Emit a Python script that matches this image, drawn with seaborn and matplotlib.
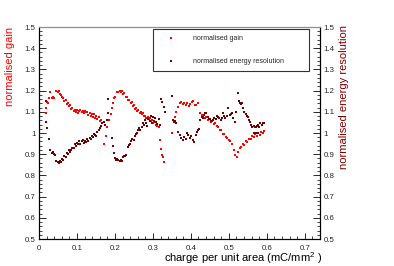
"""
Normalised gain and energy resolution vs accumulated charge (ROOT-style look).
"""

import matplotlib
import pandas as pd
import seaborn as sns

matplotlib.use("Agg")
import matplotlib.pyplot as plt
from matplotlib.ticker import MultipleLocator

# normalised gain (red)
gain_x = [
    0.018, 0.019, 0.020, 0.024, 0.027, 0.030, 0.034, 0.037, 0.040, 0.046,
    0.049, 0.052, 0.055, 0.058, 0.061, 0.064, 0.067, 0.070, 0.073, 0.076,
    0.079, 0.082, 0.085, 0.088, 0.091, 0.094, 0.097, 0.100, 0.103, 0.106,
    0.109, 0.112, 0.115, 0.118, 0.121, 0.124, 0.127, 0.130, 0.133, 0.136,
    0.139, 0.142, 0.145, 0.148, 0.151, 0.154, 0.157, 0.160, 0.163, 0.166,
    0.172, 0.176, 0.180, 0.185, 0.189, 0.192, 0.195, 0.198, 0.201, 0.205,
    0.209, 0.212, 0.216, 0.219, 0.222, 0.225, 0.228, 0.232, 0.235, 0.238,
    0.241, 0.244, 0.247, 0.250, 0.253, 0.256, 0.259, 0.262, 0.265, 0.268,
    0.271, 0.274, 0.277, 0.280, 0.283, 0.286, 0.289, 0.292, 0.295, 0.298,
    0.301, 0.304, 0.307, 0.310, 0.316, 0.318, 0.321, 0.325, 0.327, 0.330,
    0.349, 0.355, 0.358, 0.362, 0.366, 0.370, 0.374, 0.378, 0.382, 0.386,
    0.390, 0.394, 0.398, 0.402, 0.406, 0.410, 0.414, 0.418, 0.424, 0.428,
    0.432, 0.436, 0.440, 0.444, 0.448, 0.452, 0.456, 0.460, 0.464, 0.468,
    0.472, 0.476, 0.480, 0.484, 0.488, 0.492, 0.496, 0.500, 0.504, 0.508,
    0.513, 0.517, 0.521, 0.525, 0.529, 0.533, 0.537, 0.541, 0.545, 0.549,
    0.553, 0.557, 0.561, 0.565, 0.569, 0.573, 0.577, 0.581, 0.585, 0.589,
    0.593,
]
gain_y = [
    1.096, 1.119, 1.148, 1.143, 1.165, 1.195, 1.167, 1.172, 1.164, 1.196,
    1.192, 1.198, 1.184, 1.180, 1.168, 1.166, 1.152, 1.156, 1.138, 1.142,
    1.128, 1.130, 1.114, 1.120, 1.106, 1.108, 1.098, 1.110, 1.096, 1.102,
    1.108, 1.100, 1.106, 1.094, 1.104, 1.098, 1.100, 1.086, 1.092, 1.082,
    1.088, 1.076, 1.090, 1.072, 1.078, 1.064, 1.074, 1.056, 1.062, 1.048,
    0.948, 0.985, 1.030, 1.060, 1.090, 1.116, 1.140, 1.165, 1.172, 1.192,
    1.195, 1.199, 1.193, 1.197, 1.186, 1.190, 1.172, 1.170, 1.156, 1.155,
    1.142, 1.144, 1.128, 1.130, 1.114, 1.118, 1.106, 1.110, 1.096, 1.100,
    1.088, 1.092, 1.078, 1.082, 1.070, 1.076, 1.064, 1.070, 1.056, 1.062,
    1.048, 1.054, 1.040, 1.032, 1.030, 0.967, 0.925, 0.895, 0.885, 0.863,
    1.000, 1.050, 1.077, 1.100, 1.124, 1.140, 1.146, 1.136, 1.142, 1.134,
    1.140, 1.126, 1.136, 1.146, 1.152, 1.132, 1.130, 1.142, 1.096, 1.084,
    1.082, 1.072, 1.074, 1.062, 1.066, 1.054, 1.058, 1.044, 1.046, 1.032,
    1.030, 1.014, 1.012, 0.996, 0.994, 0.980, 0.978, 0.966, 0.964, 0.948,
    0.922, 0.895, 0.886, 0.912, 0.928, 0.934, 0.948, 0.944, 0.962, 0.956,
    0.974, 0.970, 0.986, 0.980, 0.996, 0.986, 1.000, 0.990, 1.004, 0.998,
    1.008,
]

# normalised energy resolution (dark red)
eres_x = [
    0.018, 0.019, 0.022, 0.026, 0.030, 0.034, 0.037, 0.040, 0.043, 0.046,
    0.049, 0.052, 0.055, 0.058, 0.061, 0.064, 0.067, 0.070, 0.073, 0.076,
    0.079, 0.082, 0.085, 0.088, 0.091, 0.094, 0.097, 0.100, 0.103, 0.106,
    0.109, 0.112, 0.115, 0.118, 0.121, 0.124, 0.127, 0.130, 0.133, 0.136,
    0.139, 0.142, 0.145, 0.148, 0.151, 0.154, 0.157, 0.160, 0.164, 0.167,
    0.171, 0.175, 0.178, 0.181, 0.183, 0.191, 0.194, 0.197, 0.200, 0.203,
    0.206, 0.209, 0.212, 0.215, 0.218, 0.221, 0.224, 0.227, 0.230, 0.234,
    0.237, 0.240, 0.243, 0.246, 0.249, 0.252, 0.255, 0.258, 0.261, 0.264,
    0.267, 0.270, 0.273, 0.276, 0.279, 0.282, 0.285, 0.288, 0.291, 0.294,
    0.297, 0.300, 0.303, 0.306, 0.309, 0.312, 0.315, 0.318, 0.322, 0.325,
    0.328, 0.331, 0.349, 0.352, 0.355, 0.358, 0.362, 0.366, 0.370, 0.374,
    0.378, 0.382, 0.386, 0.389, 0.393, 0.397, 0.401, 0.405, 0.409, 0.413,
    0.416, 0.419, 0.422, 0.425, 0.428, 0.431, 0.434, 0.437, 0.441, 0.444,
    0.447, 0.451, 0.454, 0.458, 0.461, 0.465, 0.468, 0.472, 0.475, 0.478,
    0.482, 0.485, 0.488, 0.491, 0.495, 0.498, 0.502, 0.505, 0.509, 0.512,
    0.516, 0.520, 0.524, 0.527, 0.529, 0.532, 0.535, 0.538, 0.541, 0.544,
    0.547, 0.550, 0.553, 0.556, 0.559, 0.562, 0.565, 0.568, 0.571, 0.574,
    0.577, 0.580, 0.583, 0.586, 0.589, 0.592, 0.566, 0.571, 0.576,
]
eres_y = [
    1.152, 1.053, 1.025, 0.972, 0.918, 0.905, 0.912, 0.900, 0.898, 0.870,
    0.862, 0.858, 0.868, 0.864, 0.878, 0.874, 0.890, 0.886, 0.906, 0.900,
    0.918, 0.912, 0.922, 0.930, 0.928, 0.946, 0.938, 0.952, 0.946, 0.962,
    0.950, 0.960, 0.966, 0.954, 0.964, 0.958, 0.970, 0.964, 0.978, 0.972,
    0.988, 0.980, 0.996, 0.990, 0.984, 1.005, 1.012, 1.022, 1.032, 1.046,
    1.053, 1.040, 1.060, 1.094, 1.159, 0.975, 0.939, 0.907, 0.882, 0.875,
    0.878, 0.872, 0.870, 0.874, 0.868, 0.885, 0.890, 0.892, 0.895, 0.932,
    0.942, 0.948, 0.960, 0.972, 0.968, 0.985, 0.996, 1.000, 1.012, 1.024,
    1.012, 1.030, 1.046, 1.036, 1.062, 1.048, 1.032, 1.066, 1.056, 1.082,
    1.048, 1.074, 1.058, 1.070, 1.052, 1.044, 1.064, 1.040, 1.160, 1.148,
    1.125, 1.100, 1.176, 1.062, 1.050, 1.058, 1.045, 1.006, 0.990, 0.975,
    0.968, 0.980, 0.972, 0.999, 0.990, 0.975, 0.985, 0.967, 0.959, 0.990,
    1.005, 1.014, 1.020, 1.060, 1.077, 1.070, 1.085, 1.093, 1.096, 1.075,
    1.068, 1.065, 1.058, 1.062, 1.070, 1.066, 1.080, 1.074, 1.070, 1.060,
    1.072, 1.093, 1.078, 1.070, 1.080, 1.117, 1.085, 1.090, 1.095, 1.070,
    1.053, 1.100, 1.187, 1.150, 1.140, 1.135, 1.140, 1.120, 1.100, 1.090,
    1.080, 1.075, 1.060, 1.053, 1.040, 1.030, 1.035, 1.028, 1.030, 1.035,
    1.040, 1.030, 1.045, 1.040, 1.045, 1.046, 1.000, 0.998, 1.002,
]

y_ticks = [0.5, 0.6, 0.7, 0.8, 0.9, 1.0, 1.1, 1.2, 1.3, 1.4, 1.5]
y_ticklabels = ["0.5", "0.6", "0.7", "0.8", "0.9", "1", "1.1", "1.2", "1.3", "1.4", "1.5"]
x_ticks = [0, 0.1, 0.2, 0.3, 0.4, 0.5, 0.6, 0.7]
x_ticklabels = ["0", "0.1", "0.2", "0.3", "0.4", "0.5", "0.6", "0.7"]

GAIN_COLOR = "#ff0000"
ERES_COLOR = "#6e0000"
FONT = ["Liberation Sans", "DejaVu Sans"]


def style_axis(ax, side):
    ax.set_ylim(0.5, 1.5)
    ax.set_yticks(y_ticks)
    ax.set_yticklabels(y_ticklabels)
    ax.yaxis.set_minor_locator(MultipleLocator(0.02))
    ax.tick_params(axis="y", which="major", direction="in", length=5, width=0.7,
                   labelsize=5.7, pad=2.5, left=(side == "left"), right=(side == "right"),
                   labelleft=(side == "left"), labelright=(side == "right"))
    ax.tick_params(axis="y", which="minor", direction="in", length=2.5, width=0.6,
                   left=(side == "left"), right=(side == "right"))


def main() -> None:
    sns.set_theme(style="ticks")
    plt.rcParams["font.family"] = FONT
    plt.rcParams["mathtext.fontset"] = "custom"
    plt.rcParams["mathtext.rm"] = "Liberation Sans"

    df_gain = pd.DataFrame({"charge": gain_x, "value": gain_y})
    df_eres = pd.DataFrame({"charge": eres_x, "value": eres_y})

    fig = plt.figure(figsize=(3.94, 2.66), dpi=100)
    ax = fig.add_axes([39 / 394, 1 - 239 / 266, 281 / 394, 212 / 266])
    ax2 = ax.twinx()

    sns.scatterplot(data=df_gain, x="charge", y="value", ax=ax, color=GAIN_COLOR,
                    marker="s", s=3, linewidth=0, label="normalised gain", legend=False)
    sns.scatterplot(data=df_eres, x="charge", y="value", ax=ax2, color=ERES_COLOR,
                    marker="s", s=3, linewidth=0, label="normalised energy resolution",
                    legend=False)

    ax.set_xlim(0, 0.74)
    ax.set_xticks(x_ticks)
    ax.set_xticklabels(x_ticklabels)
    ax.xaxis.set_minor_locator(MultipleLocator(0.02))
    ax.tick_params(axis="x", which="major", direction="in", length=4, width=0.7,
                   labelsize=5.7, pad=4, top=False)
    ax.tick_params(axis="x", which="minor", direction="in", length=2, width=0.6, top=False)

    style_axis(ax, "left")
    style_axis(ax2, "right")

    for a in (ax, ax2):
        a.set_xlabel("")
        a.set_ylabel("")
        for sp in a.spines.values():
            sp.set_linewidth(0.8)
            sp.set_color("black")
        a.spines["top"].set_color("#8c8c8c")

    fig.text(10 / 394, 1 - 27 / 266, "normalised gain", rotation=90, ha="center",
             va="top", color=GAIN_COLOR, fontsize=8)
    fig.text(344 / 394, 1 - 25 / 266, "normalised energy resolution", rotation=90,
             ha="center", va="top", color="#7a0000", fontsize=8)
    fig.text(322 / 394, 1 - 258 / 266, r"charge per unit area (mC/mm$^{\mathrm{2}}$ )",
             ha="right", va="center", color="black", fontsize=8)

    h1, l1 = ax.get_legend_handles_labels()
    h2, l2 = ax2.get_legend_handles_labels()
    leg = ax2.legend(h1 + h2, l1 + l2, loc="upper left",
                     bbox_to_anchor=(153 / 394, 1 - 29 / 266, 156 / 394, 0.0),
                     bbox_transform=fig.transFigure, mode="expand", borderaxespad=0,
                     fontsize=5, frameon=True, fancybox=False, borderpad=0.9,
                     labelspacing=2.2, handlelength=3.3, handletextpad=1.5,
                     markerscale=1.0)
    leg.get_frame().set_edgecolor("black")
    leg.get_frame().set_linewidth(0.8)

    fig.savefig("out.png", dpi=100)
    plt.close(fig)


if __name__ == "__main__":
    main()
